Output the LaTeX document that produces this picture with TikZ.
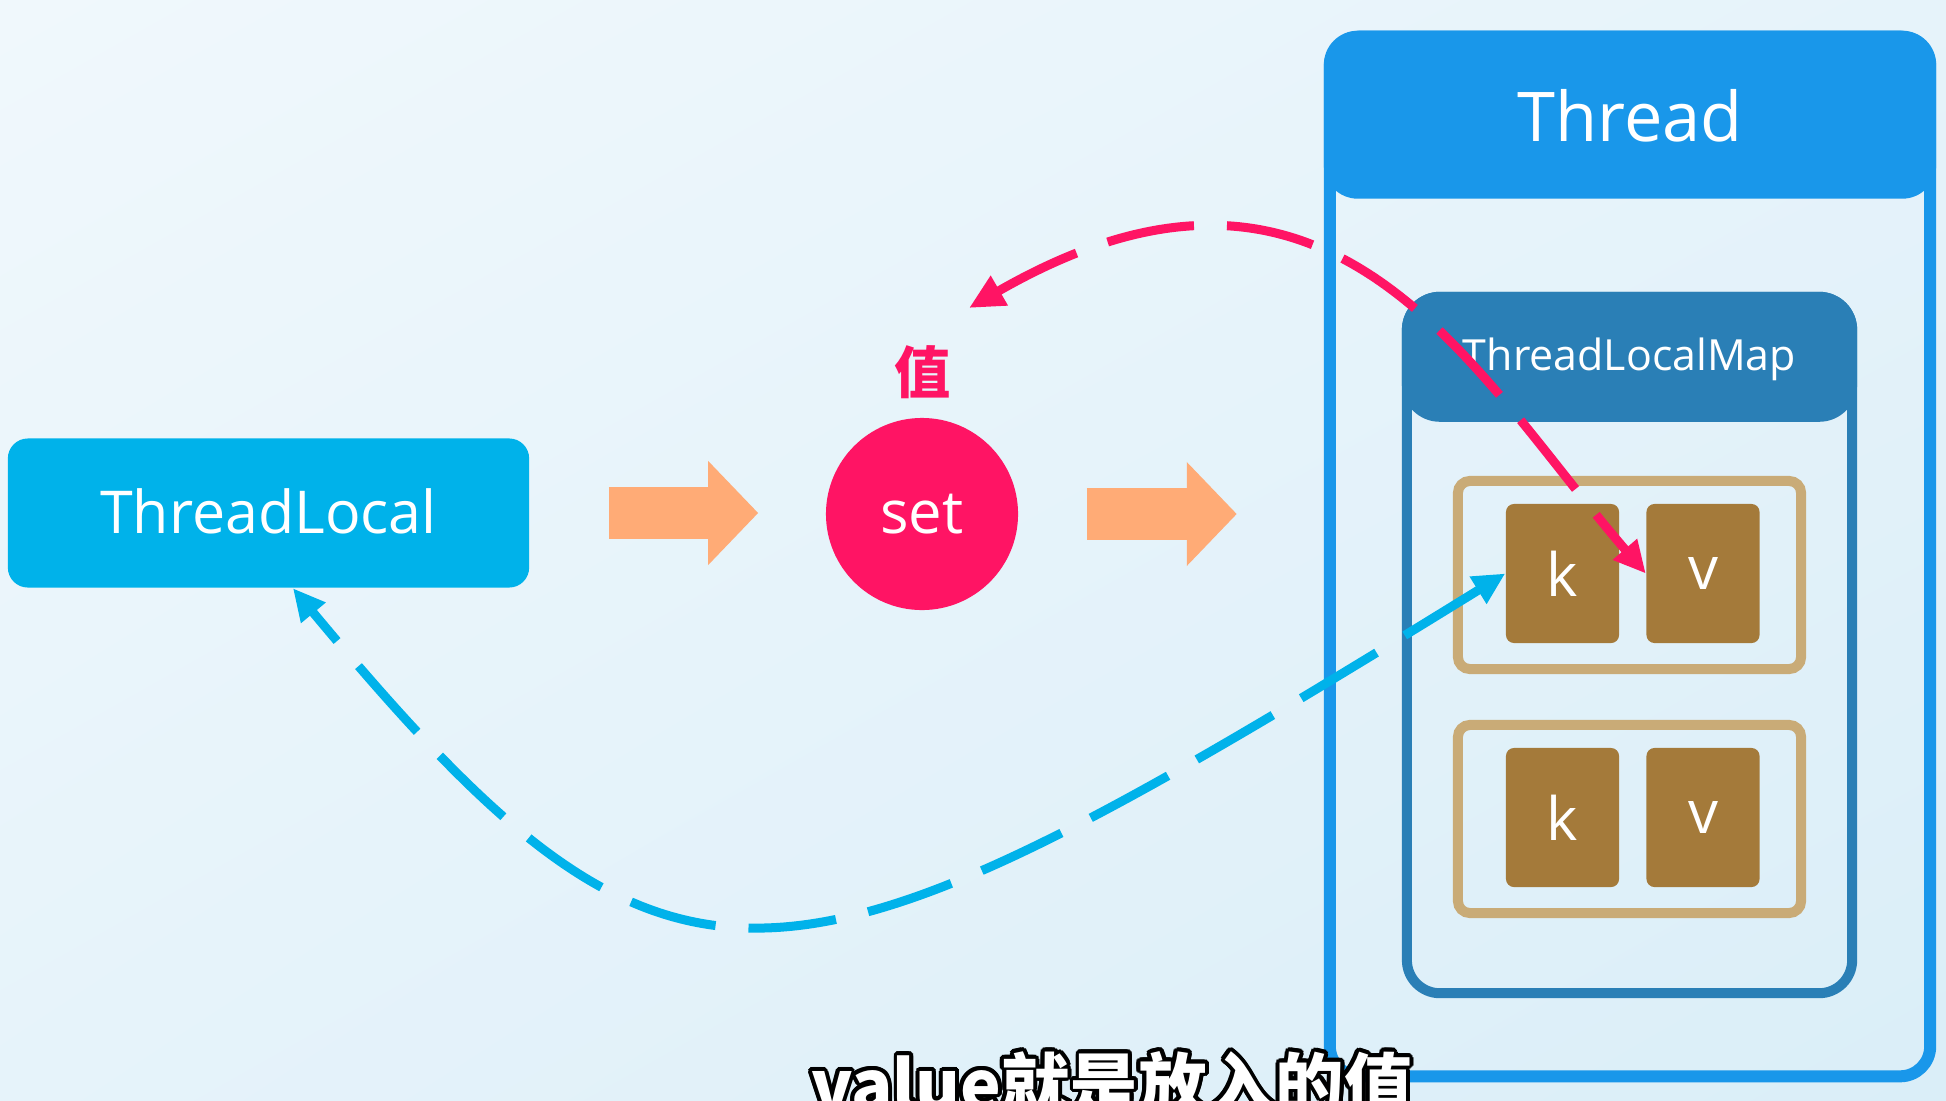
\documentclass[tikz,border=0pt]{standalone}
\usepackage{fontspec}
\setmainfont{Open Sans}
\newfontfamily\cjk{Noto Sans CJK SC}
\usepackage{tikz}
\usepackage{contour}
\contourlength{1.1pt}
\usetikzlibrary{arrows.meta,positioning,calc,shadings}
\definecolor{bgA}{HTML}{F0F8FC}
\definecolor{bgM}{HTML}{E6F3FA}
\definecolor{bgB}{HTML}{DAEEF8}
\definecolor{tlCyan}{HTML}{00B2EA}
\definecolor{setPink}{HTML}{FF1464}
\definecolor{fatOrange}{HTML}{FFAB76}
\definecolor{thBlue}{HTML}{1997EA}
\definecolor{mapBlue}{HTML}{2A7FB6}
\definecolor{kvTan}{HTML}{C9AB77}
\definecolor{kvBrown}{HTML}{A47A3A}
\tikzset{
  box/.style    = {align=center, text=white, inner sep=0pt},
  tlbox/.style  = {box, fill=tlCyan, rounded corners=0.2cm, minimum width=5.21cm,
                   minimum height=1.49cm, font=\fontsize{16.8}{20}\selectfont},
  setdot/.style = {box, circle, fill=setPink, minimum size=1.92cm,
                   font=\fontsize{17}{20}\selectfont},
  frame/.style  = {draw=thBlue, line width=0.12cm, rounded corners=0.3cm, inner sep=0pt},
  mapfr/.style  = {draw=mapBlue, line width=0.1cm, rounded corners=0.33cm, inner sep=0pt},
  entry/.style  = {draw=kvTan, line width=0.1cm, rounded corners=0.12cm, inner sep=0pt,
                   minimum width=3.43cm, minimum height=1.88cm},
  kv/.style     = {box, fill=kvBrown, rounded corners=0.08cm, minimum width=1.13cm,
                   minimum height=1.39cm, font=\fontsize{17}{20}\selectfont},
  ttl/.style    = {text=white, anchor=base, inner sep=0pt},
  fat/.style    = {draw=fatOrange, line width=0.51cm,
                   -{Triangle[length=0.5cm, width=1.01cm]}},
  dsh/.style    = {line width=0.09cm, dash pattern=on 0.88cm off 0.33cm},
  pk/.tip       = {Triangle[length=0.35cm, width=0.32cm]},
  hd/.tip       = {Triangle[length=0.32cm, width=0.3cm]},
}

\begin{document}
\begin{tikzpicture}[x=0.01cm, y=-0.01cm]
  \useasboundingbox (0,0) rectangle (1946,1100);
  \shade[upper left=bgA, upper right=bgM, lower left=bgM, lower right=bgB]
    (0,0) rectangle (1946,1100);
  \clip (0,0) rectangle (1946,1100);
  % thread
  \node[frame, minimum width=6cm, minimum height=10.39cm] (thread) at (1630,556.5) {};
  \fill[thBlue, rounded corners=0.34cm] (thread.north west)
       rectangle ($(thread.north east)+(0,168)$);
  \node[ttl, font=\fontsize{19.5}{23}\selectfont] (thtitle)
       at ($(thread.north)+(0,111)$) {Thread};
  % map inside
  \node[mapfr, minimum width=4.45cm, minimum height=6.96cm] (map) at (1629.5,645) {};
  \fill[mapBlue, rounded corners=0.38cm] (map.north west)
       rectangle ($(map.north east)+(0,130)$);
  \node[ttl, font=\fontsize{12.2}{14}\selectfont] (maptitle)
       at ($(map.north)+(0,79)$) {ThreadLocalMap};
  % entries
  \foreach \r/\y in {1/575,2/819}{
    \node[entry] (e\r) at (1629.5,\y) {};
    \node[kv] (k\r) at (1562.5,\y-1.5) {k};
    \node[kv] (v\r) at (1703,\y-1.5) {v};
  }
  % left part
  \node[tlbox] (tl) at (268.5,513) {\raisebox{1.2pt}{ThreadLocal}};
  \node[setdot] (set) at (922,514) {set};
  \node[text=setPink, font=\cjk\bfseries\fontsize{16}{18}\selectfont] (val)
       at (923,372) {值};
  \coordinate (valtip) at (969,308);
  \draw[fat, shorten <=0.79cm, shorten >=0.67cm] (tl.east) -- (tl.east -| set.west);
  \draw[fat, shorten <=0.68cm, shorten >=0.87cm] (set.east) -- (set.east -| thread.west);
  % dashed connectors
  \draw[dsh, setPink, pk-hd]
       (valtip) .. controls (1334,98) and (1472,372) .. (v1.west);
  \draw[dsh, tlCyan, hd-hd]
       (k1.west) .. controls (777,1023) and (678,1051) .. (tl.-72);
  % subtitle
  \node[anchor=base, text=white, font=\cjk\bfseries\fontsize{19.5}{22}\selectfont] (sub)
       at (1112,1110) {\contour{black}{value就是放入的值}};
\end{tikzpicture}
\end{document}
